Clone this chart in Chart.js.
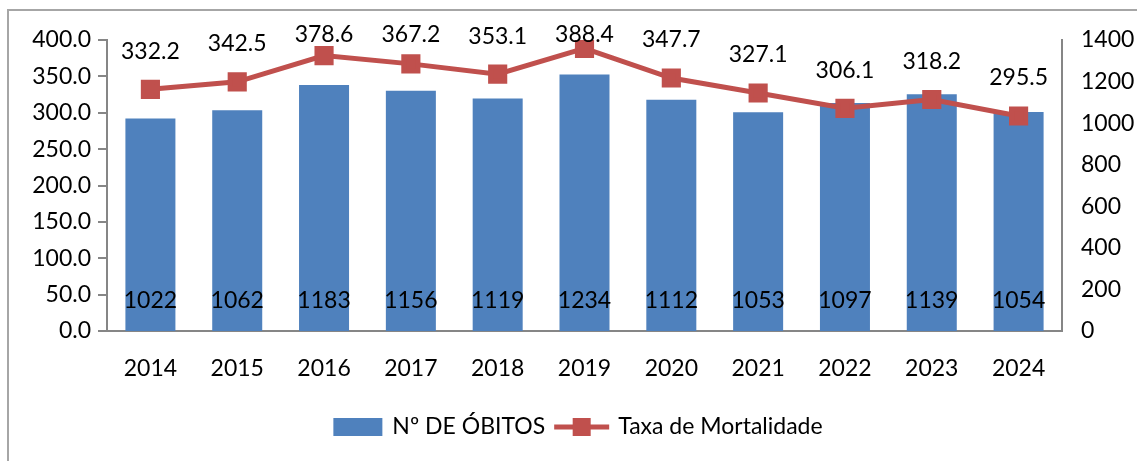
<!DOCTYPE html>
<html>
<head>
<meta charset="utf-8">
<script src="https://cdn.jsdelivr.net/npm/chart.js@4/dist/chart.umd.min.js"></script>
<style>
html,body{margin:0;padding:0;background:#fff;}
#wrap{width:1137px;height:461px;position:relative;}
</style>
</head>
<body>
<div id="wrap"><canvas id="c" width="1137" height="461"></canvas></div>
<script>
const categories = ['2014','2015','2016','2017','2018','2019','2020','2021','2022','2023','2024'];
const obitos = [1022,1062,1183,1156,1119,1234,1112,1053,1097,1139,1054];
const taxa = [332.2,342.5,378.6,367.2,353.1,388.4,347.7,327.1,306.1,318.2,295.5];
const seriesNames = ['Nº DE ÓBITOS','Taxa de Mortalidade'];

const FONT = 'Lato, "Open Sans", sans-serif';
const FS = 23;
const BLUE = '#4F81BD';
const RED = '#C0504D';
const AXIS = '#868686';

const framePlugin = {
  id: 'frame',
  beforeDraw(chart) {
    const ctx = chart.ctx;
    ctx.save();
    ctx.strokeStyle = '#A6A6A6';
    ctx.lineWidth = 2;
    ctx.beginPath();
    ctx.moveTo(8, 461);
    ctx.lineTo(8, 10);
    ctx.lineTo(1137, 10);
    ctx.stroke();
    ctx.restore();
  }
};

const labelPlugin = {
  id: 'valueLabels',
  afterDatasetsDraw(chart) {
    const ctx = chart.ctx;
    ctx.save();
    ctx.font = FS + 'px ' + FONT;
    ctx.fillStyle = '#000';
    ctx.textAlign = 'center';
    ctx.textBaseline = 'middle';
    const barMeta = chart.getDatasetMeta(0);
    barMeta.data.forEach((el, i) => {
      ctx.fillText(String(obitos[i]), el.x, el.base - 30);
    });
    const lineMeta = chart.getDatasetMeta(1);
    const top = chart.chartArea.top;
    lineMeta.data.forEach((el, i) => {
      const y = Math.max(top - 5, el.y - 38);
      ctx.fillText(taxa[i].toFixed(1), el.x, y);
    });
    ctx.restore();
  }
};

const legendPlugin = {
  id: 'customLegend',
  afterDraw(chart) {
    const ctx = chart.ctx;
    ctx.save();
    ctx.font = FS + 'px ' + FONT;
    ctx.textBaseline = 'middle';
    ctx.textAlign = 'left';
    const y = 427;
    const boxW = 49, boxH = 18, gap = 10, lineW = 55, gap2 = 9;
    const w1 = ctx.measureText(seriesNames[0]).width;
    const w2 = ctx.measureText(seriesNames[1]).width;
    const total = boxW + gap + w1 + gap2 + lineW + gap2 + w2;
    let x = 578 - total / 2;
    ctx.fillStyle = BLUE;
    ctx.fillRect(x, y - boxH / 2, boxW, boxH);
    x += boxW + gap;
    ctx.fillStyle = '#000';
    ctx.fillText(seriesNames[0], x, y);
    x += w1 + gap2;
    ctx.strokeStyle = RED;
    ctx.lineWidth = 5;
    ctx.beginPath();
    ctx.moveTo(x, y); ctx.lineTo(x + lineW, y); ctx.stroke();
    ctx.fillStyle = RED;
    ctx.fillRect(x + lineW / 2 - 9, y - 9, 18, 18);
    x += lineW + gap2;
    ctx.fillStyle = '#000';
    ctx.fillText(seriesNames[1], x, y);
    ctx.restore();
  }
};

new Chart(document.getElementById('c'), {
  data: {
    labels: categories,
    datasets: [
      {
        type: 'bar',
        label: seriesNames[0],
        data: obitos,
        yAxisID: 'y1',
        backgroundColor: BLUE,
        barPercentage: 0.576,
        categoryPercentage: 1.0,
        order: 2
      },
      {
        type: 'line',
        label: seriesNames[1],
        data: taxa,
        yAxisID: 'y',
        borderColor: RED,
        backgroundColor: RED,
        borderWidth: 5,
        pointStyle: 'rect',
        pointRadius: 10,
        pointHoverRadius: 10,
        tension: 0,
        order: 1
      }
    ]
  },
  options: {
    responsive: false,
    animation: false,
    events: [],
    layout: { padding: { top: 40, left: 0, right: 0, bottom: 0 } },
    plugins: { legend: { display: false }, tooltip: { enabled: false } },
    scales: {
      x: {
        grid: { display: false, drawTicks: false },
        border: { display: true, color: AXIS, width: 2 },
        ticks: { color: '#000', font: { family: FONT, size: FS }, padding: 24, maxRotation: 0 },
        afterFit(s) { s.height = 130; }
      },
      y: {
        position: 'left',
        min: 0, max: 400,
        grid: { display: true, drawOnChartArea: false, drawTicks: true, tickLength: 9, color: AXIS, lineWidth: 2 },
        border: { display: true, color: AXIS, width: 2 },
        ticks: { stepSize: 50, color: '#000', font: { family: FONT, size: FS }, padding: 7,
          callback: v => Number(v).toFixed(1) },
        afterFit(s) { s.width = 107; }
      },
      y1: {
        position: 'right',
        min: 0, max: 1400,
        grid: { display: false },
        border: { display: true, color: AXIS, width: 2 },
        ticks: { stepSize: 200, color: '#000', font: { family: FONT, size: FS }, padding: 11,
          callback: v => String(v) },
        afterFit(s) { s.width = 75; }
      }
    }
  },
  plugins: [framePlugin, labelPlugin, legendPlugin]
});
</script>
</body>
</html>
